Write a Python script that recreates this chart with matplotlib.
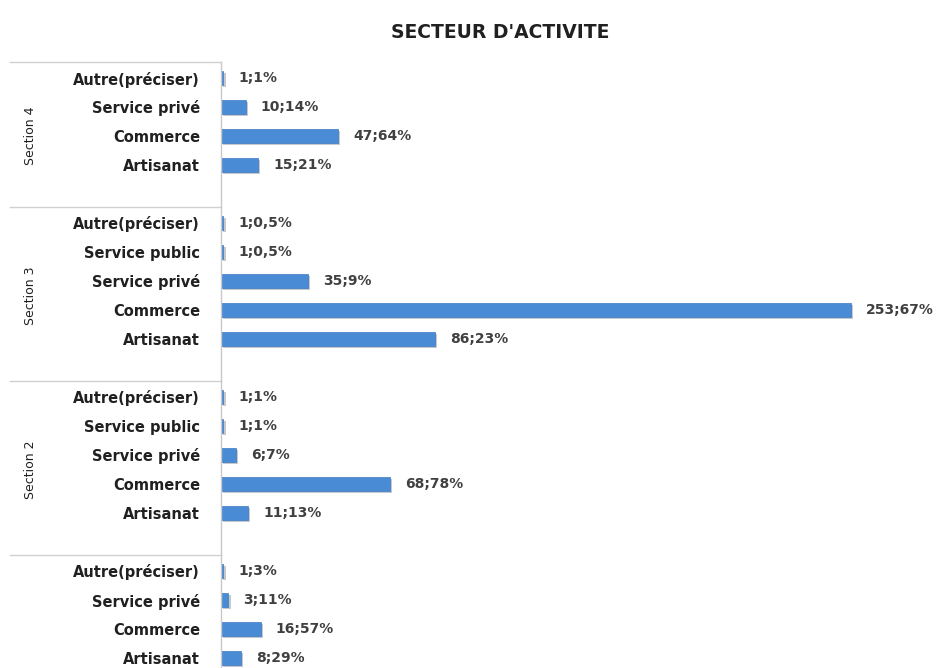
import matplotlib
matplotlib.use("Agg")
import matplotlib.pyplot as plt
import matplotlib.transforms as mtransforms
import matplotlib.patheffects as pe

# ---- data ----
sections = ["Section 4", "Section 3", "Section 2", "Section 1"]
cats_s4 = ["Autre(préciser)", "Service privé", "Commerce", "Artisanat"]
vals_s4 = [1, 10, 47, 15]
labs_s4 = ["1;1%", "10;14%", "47;64%", "15;21%"]
cats_s3 = ["Autre(préciser)", "Service public", "Service privé", "Commerce", "Artisanat"]
vals_s3 = [1, 1, 35, 253, 86]
labs_s3 = ["1;0,5%", "1;0,5%", "35;9%", "253;67%", "86;23%"]
cats_s2 = ["Autre(préciser)", "Service public", "Service privé", "Commerce", "Artisanat"]
vals_s2 = [1, 1, 6, 68, 11]
labs_s2 = ["1;1%", "1;1%", "6;7%", "68;78%", "11;13%"]
cats_s1 = ["Autre(préciser)", "Service privé", "Commerce", "Artisanat"]
vals_s1 = [1, 3, 16, 8]
labs_s1 = ["1;3%", "3;11%", "16;57%", "8;29%"]
title = "SECTEUR D'ACTIVITE"

groups = [(sections[0], cats_s4, vals_s4, labs_s4),
          (sections[1], cats_s3, vals_s3, labs_s3),
          (sections[2], cats_s2, vals_s2, labs_s2),
          (sections[3], cats_s1, vals_s1, labs_s1)]

W, H = 944, 668
fig = plt.figure(figsize=(W / 100, H / 100), dpi=100)
fig.patch.set_facecolor("white")

row_px = 29.0
y0_px = 78.0
ax_left_px, ax_right_px = 221.0, 900.0
ax_top_idx, ax_bot_idx = -0.55, 21.5
ax_top_px = y0_px + row_px * ax_top_idx
ax_bot_px = y0_px + row_px * ax_bot_idx
ax = fig.add_axes([ax_left_px / W, 1 - ax_bot_px / H,
                   (ax_right_px - ax_left_px) / W, (ax_bot_px - ax_top_px) / H])
ax.set_ylim(ax_bot_idx, ax_top_idx)
ax.set_xlim(0, (ax_right_px - ax_left_px) / 2.49)

font = "DejaVu Sans"
bar_color = "#4A8BD6"
ypos, ylabels = [], []
bounds = []
idx = 0
for sec, cats, vals, labs in groups:
    start = idx
    for c, v, l in zip(cats, vals, labs):
        b = ax.barh(idx, v, height=0.5, color=bar_color, edgecolor="#3d78c0", linewidth=0.5)
        for p in b:
            p.set_path_effects([pe.SimplePatchShadow(offset=(1.5, -1.5), alpha=0.25), pe.Normal()])
        ax.text(v + 6, idx, l, va="center", ha="left", fontsize=10, fontweight="bold",
                color="#404040", family=font, clip_on=False)
        ypos.append(idx)
        ylabels.append(c)
        idx += 1
    idx += 1  # blank row
    bounds.append((start - 0.5, idx - 0.5, sec))

ax.set_yticks(ypos)
ax.set_yticklabels(ylabels, fontsize=10.5, fontweight="bold", family=font, color="#202020")
ax.tick_params(axis="y", length=0, pad=15)
ax.set_xticks([])
for s in ["top", "right", "bottom"]:
    ax.spines[s].set_visible(False)
ax.spines["left"].set_color("#c8c8c8")
ax.spines["left"].set_linewidth(1.0)

trans = mtransforms.blended_transform_factory(ax.transAxes, ax.transData)
xl = (10 - ax_left_px) / (ax_right_px - ax_left_px)
for top, bot, sec in bounds:
    ax.plot([xl, 0], [top - 0.05, top - 0.05], transform=trans, color="#d0d0d0", lw=1.0, clip_on=False)
    if sec != "Section 1":
        xs = (30 - ax_left_px) / (ax_right_px - ax_left_px)
        ax.text(xs, (top + bot) / 2, sec, rotation=90, ha="center", va="center",
                fontsize=9, family=font, color="#202020", transform=trans, clip_on=False)

fig.text(500 / W, 1 - 33 / H, title, ha="center", va="center", fontsize=13.5,
         fontweight="bold", family=font, color="#202020")

fig.savefig("out.png", dpi=100, facecolor="white")
